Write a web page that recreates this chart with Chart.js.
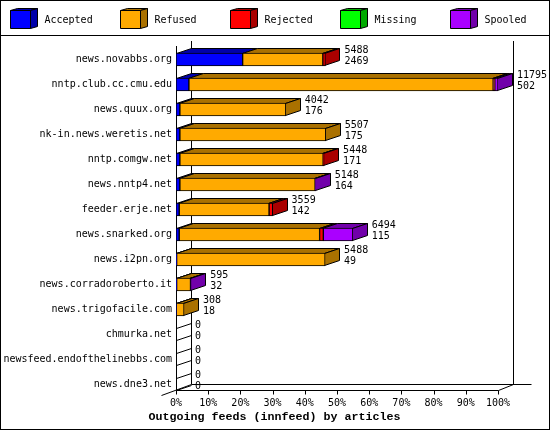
<!DOCTYPE html>
<html><head><meta charset="utf-8">
<style>html,body{margin:0;padding:0;background:#fff}canvas{display:block}</style>
<script src="https://cdn.jsdelivr.net/npm/chart.js@4"></script>
</head><body><div style="width:550px;height:430px"><canvas id="c" width="550" height="430"></canvas></div>
<script>
const feeds = ["news.novabbs.org","nntp.club.cc.cmu.edu","news.quux.org","nk-in.news.weretis.net","nntp.comgw.net","news.nntp4.net","feeder.erje.net","news.snarked.org","news.i2pn.org","news.corradoroberto.it","news.trigofacile.com","chmurka.net","newsfeed.endofthelinebbs.com","news.dne3.net"];
const accepted = [20.7,4.0,1.2,1.2,1.2,1.2,1.0,1.0,0.2,0.2,0.1,0,0,0];
const refused  = [24.9,94.5,32.9,45.3,44.5,42.0,27.9,43.6,46.1,4.3,2.4,0,0,0];
const rejected = [0.8,0.5,0,0,0.3,0,1.1,1.15,0,0,0,0,0,0];
const missing  = [0,0,0,0,0,0,0,0,0,0,0,0,0,0];
const spooled  = [0,1.0,0,0,0,0.2,0,9.15,0,0.25,0,0,0,0];
const totals   = ["5488","11795","4042","5507","5448","5148","3559","6494","5488","595","308","0","0","0"];
const counts   = ["2469","502","176","175","171","164","142","115","49","32","18","0","0","0"];
const seriesNames = ["Accepted","Refused","Rejected","Missing","Spooled"];
const seriesValues = [accepted,refused,rejected,missing,spooled];
const fronts = ["#0000ff","#ffaa00","#ff0000","#00ff00","#aa00ff"];
const sides  = ["#0000aa","#aa7100","#aa0000","#00aa00","#7100aa"];
const titleText = "Outgoing feeds (innfeed) by articles";
const FONT = '"DejaVu Sans Mono", monospace';
const TITLE_FONT = '"Liberation Mono", monospace';

function poly(ctx, pts, fill){
  ctx.beginPath();
  pts.forEach((p,i)=> i?ctx.lineTo(p[0],p[1]):ctx.moveTo(p[0],p[1]));
  ctx.closePath();
  if(fill){ctx.fillStyle=fill;ctx.fill();}
  ctx.lineWidth=1;ctx.strokeStyle="#000";ctx.stroke();
}
function line(ctx,x1,y1,x2,y2){
  ctx.beginPath();ctx.moveTo(x1,y1);ctx.lineTo(x2,y2);ctx.lineWidth=1;ctx.strokeStyle="#000";ctx.stroke();
}
const DX=15, DY=5;
const frame3d = {
  id:"frame3d",
  beforeDatasetsDraw(chart){
    const ctx=chart.ctx, a=chart.chartArea, xs=chart.scales.x;
    ctx.save();
    const L=Math.round(a.left)+.5, R=Math.round(xs.getPixelForValue(100))+.5, F=a.bottom-7+.5, B=F-6;
    const snap=x=>Math.max(L,Math.round(x)-.5);
    line(ctx,L,46,L,F);
    line(ctx,L+DX,41,L+DX,B);
    line(ctx,R+DX,41,R+DX,B);
    line(ctx,L,F,R,F);
    line(ctx,L+DX,B,R+DX+18,B);
    line(ctx,L-DX,F+5,L+DX,B);
    line(ctx,R,F,R+DX,B);
    xs.ticks.forEach(t=>{const x=Math.round(xs.getPixelForValue(t.value))+.5;line(ctx,x,F,x,F+4);});
    // depth faces built from the library's own bar elements
    const n=feeds.length, metas=chart.data.datasets.map((d,i)=>chart.getDatasetMeta(i));
    for(let r=0;r<n;r++){
      let last=-1;
      metas.forEach((m,i)=>{ if(chart.data.datasets[i].data[r]>0) last=i; });
      const e0=metas[0].data[r];
      const top=e0.y-e0.height/2+.5, bot=e0.y+e0.height/2-.5;
      metas.forEach((m,i)=>{
        if(chart.data.datasets[i].data[r]<=0) return;
        const e=m.data[r], x0=snap(e.base), x1=snap(e.x);
        poly(ctx,[[x0,top],[x0+DX,top-DY],[x1+DX,top-DY],[x1,top]],sides[i]);
      });
      if(last>=0){
        const x1=snap(metas[last].data[r].x);
        poly(ctx,[[x1,top],[x1+DX,top-DY],[x1+DX,bot-DY],[x1,bot]],sides[last]);
      } else {
        line(ctx,L,top,L+DX,top-DY);
        line(ctx,L,bot,L+DX,bot-DY);
      }
    }
    ctx.restore();
  },
  afterDatasetsDraw(chart){
    const ctx=chart.ctx, xs=chart.scales.x, ys=chart.scales.y;
    ctx.save();
    ctx.font="10px "+FONT;ctx.fillStyle="#000";ctx.textBaseline="middle";ctx.textAlign="left";
    const ends=feeds.map((_,r)=>{let t=0;seriesValues.forEach(s=>t+=s[r]);return t;});
    feeds.forEach((_,r)=>{
      const x=xs.getPixelForValue(ends[r])+DX+4, y=ys.getPixelForValue(r);
      ctx.fillText(totals[r],x,y-9.5);
      ctx.fillText(counts[r],x,y+1.5);
    });
    // legend
    const lw=[10.5,120.5,230.5,340.5,450.5];
    seriesNames.forEach((nm,i)=>{
      const x=lw[i],y=10.5,w=20,h=18,dx=7,dy=2;
      poly(ctx,[[x,y],[x+dx,y-dy],[x+w+dx,y-dy],[x+w,y]],sides[i]);
      poly(ctx,[[x+w,y],[x+w+dx,y-dy],[x+w+dx,y+h-dy],[x+w,y+h]],sides[i]);
      poly(ctx,[[x,y],[x+w,y],[x+w,y+h],[x,y+h]],fronts[i]);
      ctx.fillStyle="#000";
      ctx.fillText(nm,x+34,20);
    });
    // title
    ctx.font="bold 11.67px "+TITLE_FONT;ctx.textAlign="center";ctx.fillStyle="#000";
    ctx.fillText(titleText,274.5,417);
    // outer frame
    line(ctx,0,.5,550,.5);line(ctx,.5,0,.5,430);line(ctx,549.5,0,549.5,430);line(ctx,0,429.5,550,429.5);
    line(ctx,0,35.5,550,35.5);
    ctx.restore();
  }
};
new Chart(document.getElementById("c"),{
  type:"bar",
  data:{labels:feeds,datasets:seriesNames.map((nm,i)=>({
    label:nm,data:seriesValues[i],backgroundColor:fronts[i],borderColor:"#000",borderWidth:1,borderSkipped:false,barThickness:13
  }))},
  options:{
    indexAxis:"y",responsive:false,animation:false,devicePixelRatio:1,
    layout:{padding:{left:0,right:52,top:47,bottom:20}},
    plugins:{legend:{display:false},tooltip:{enabled:false},title:{display:false}},
    scales:{
      x:{stacked:true,min:0,max:100,
        grid:{display:false,drawTicks:false},border:{display:false},
        ticks:{stepSize:10,maxRotation:0,autoSkip:false,padding:0,color:"#000",font:{family:FONT,size:10},callback:v=>v+"%"},
        afterFit(s){s.height=13;}
      },
      y:{stacked:true,
        grid:{display:false,drawTicks:false},border:{display:false},
        ticks:{autoSkip:false,padding:4,color:"#000",font:{family:FONT,size:10}},
        afterFit(s){s.width=176;}
      }
    }
  },
  plugins:[frame3d]
});
</script></body></html>
